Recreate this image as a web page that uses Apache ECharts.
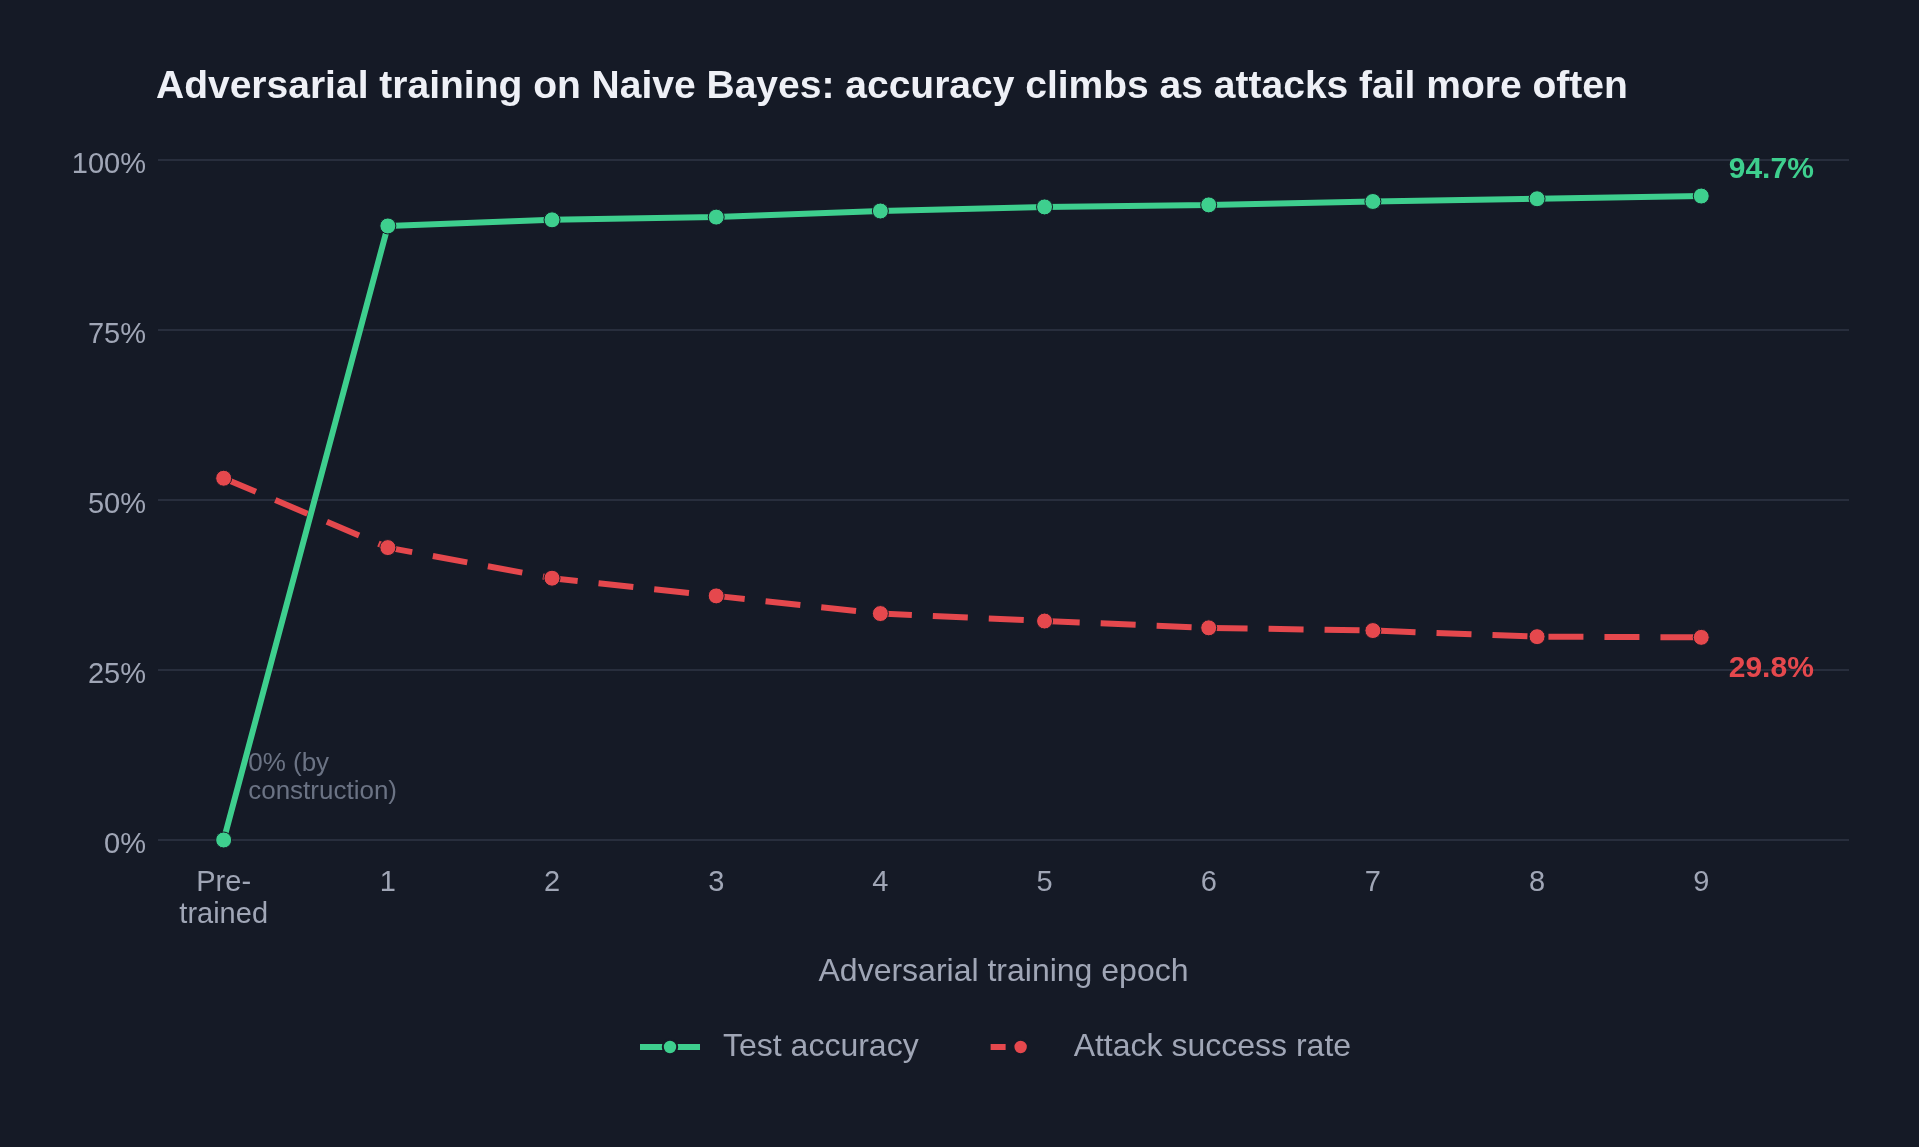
<!DOCTYPE html>
<html>
<head>
<meta charset="utf-8">
<title>Adversarial training on Naive Bayes</title>
<script src="https://cdn.jsdelivr.net/npm/echarts@6/dist/echarts.min.js"></script>
<style>
    html, body {
        margin: 0;
        padding: 0;
        background: #151a26;
    }
    #chart {
        width: 1919px;
        height: 1147px;
    }
</style>
</head>
<body>
<div id="chart"></div>
<script>
// epoch labels on the x axis
var epochLabels = ["Pre-\ntrained", "1", "2", "3", "4", "5", "6", "7", "8", "9"];
// test accuracy, percent
var testAccuracy = [0, 90.3, 91.2, 91.6, 92.5, 93.1, 93.4, 93.9, 94.3, 94.7];
// attack success rate, percent
var attackSuccess = [53.2, 43.0, 38.5, 35.9, 33.3, 32.2, 31.2, 30.8, 29.9, 29.8];
var yTicks = [0, 25, 50, 75, 100];

var FONT = '"Liberation Sans", Arial, sans-serif';
var GREEN = "#3ecf8e";
var RED = "#e5484d";
var BG = "#151a26";
var MUTED = "#a0a6b6";

// turn a list of values into [index, value] points, with labels on some points
function toPoints(values, labels) {
    let points = [];
    for (let i = 0; i < values.length; i++) {
        let item = {value: [i, values[i]]};
        if (labels[i]) {
            item.label = labels[i];
        }
        points.push(item);
    }
    return points;
}

var accLabels = {};
accLabels[0] = {
    show: true,
    position: "right",
    distance: 16,
    offset: [0, -62],
    formatter: "0% (by\nconstruction)",
    color: "#6b7384",
    fontFamily: FONT,
    fontSize: 26,
    lineHeight: 28,
    align: "left"
};
accLabels[testAccuracy.length - 1] = {
    show: true,
    position: "right",
    distance: 19,
    offset: [0, -26],
    formatter: testAccuracy[testAccuracy.length - 1].toFixed(1) + "%",
    color: GREEN,
    fontFamily: FONT,
    fontWeight: "bold",
    fontSize: 30
};

var atkLabels = {};
atkLabels[attackSuccess.length - 1] = {
    show: true,
    position: "right",
    distance: 19,
    offset: [0, 31],
    formatter: attackSuccess[attackSuccess.length - 1].toFixed(1) + "%",
    color: RED,
    fontFamily: FONT,
    fontWeight: "bold",
    fontSize: 30
};

var chartDom = document.getElementById("chart");
var myChart = echarts.init(chartDom);

var option = {
    backgroundColor: BG,
    animation: false,
    title: {
        text: "Adversarial training on Naive Bayes: accuracy climbs as attacks fail more often",
        left: 151,
        top: 63,
        textStyle: {
            color: "#eef0f6",
            fontFamily: FONT,
            fontWeight: "bold",
            fontSize: 39
        }
    },
    legend: {
        left: 632,
        top: 1026,
        itemWidth: 60,
        itemHeight: 18,
        itemGap: 69,
        textStyle: {
            color: MUTED,
            fontFamily: FONT,
            fontSize: 32,
            padding: [0, 0, 0, 18]
        },
        data: [
            {name: "Test accuracy", lineStyle: {width: 6}},
            {name: "Attack success rate", lineStyle: {width: 6, type: [15, 100]}}
        ]
    },
    grid: {
        left: 158,
        right: 70,
        top: 160,
        bottom: 307
    },
    xAxis: {
        type: "value",
        min: -0.4,
        max: 9.9,
        name: "Adversarial training epoch",
        nameLocation: "middle",
        nameGap: 116,
        nameTextStyle: {
            color: MUTED,
            fontFamily: FONT,
            fontSize: 32
        },
        axisLine: {show: false},
        axisTick: {show: false},
        splitLine: {show: false},
        axisLabel: {
            customValues: epochLabels.map(function (c, i) { return i; }),
            formatter: function (v) {
                return epochLabels[Math.round(v)];
            },
            color: MUTED,
            fontFamily: FONT,
            fontSize: 29,
            lineHeight: 32,
            margin: 27
        }
    },
    yAxis: {
        type: "value",
        min: yTicks[0],
        max: yTicks[yTicks.length - 1],
        interval: 25,
        axisLine: {show: false},
        axisTick: {show: false},
        splitLine: {
            lineStyle: {color: "#282e3d", width: 2}
        },
        axisLabel: {
            formatter: "{value}%",
            color: MUTED,
            fontFamily: FONT,
            fontSize: 29,
            verticalAlign: "top",
            lineHeight: 10,
            margin: 12
        }
    },
    series: [
        {
            name: "Test accuracy",
            type: "line",
            z: 3,
            clip: false,
            data: toPoints(testAccuracy, accLabels),
            symbol: "circle",
            symbolSize: 16,
            lineStyle: {color: GREEN, width: 6},
            itemStyle: {color: GREEN, borderColor: BG, borderWidth: 1}
        },
        {
            name: "Attack success rate",
            type: "line",
            z: 2,
            clip: false,
            data: toPoints(attackSuccess, atkLabels),
            symbol: "circle",
            symbolSize: 16,
            lineStyle: {color: RED, width: 6, type: [35, 21]},
            itemStyle: {color: RED, borderColor: BG, borderWidth: 1}
        }
    ]
};

option && myChart.setOption(option);
</script>
</body>
</html>
